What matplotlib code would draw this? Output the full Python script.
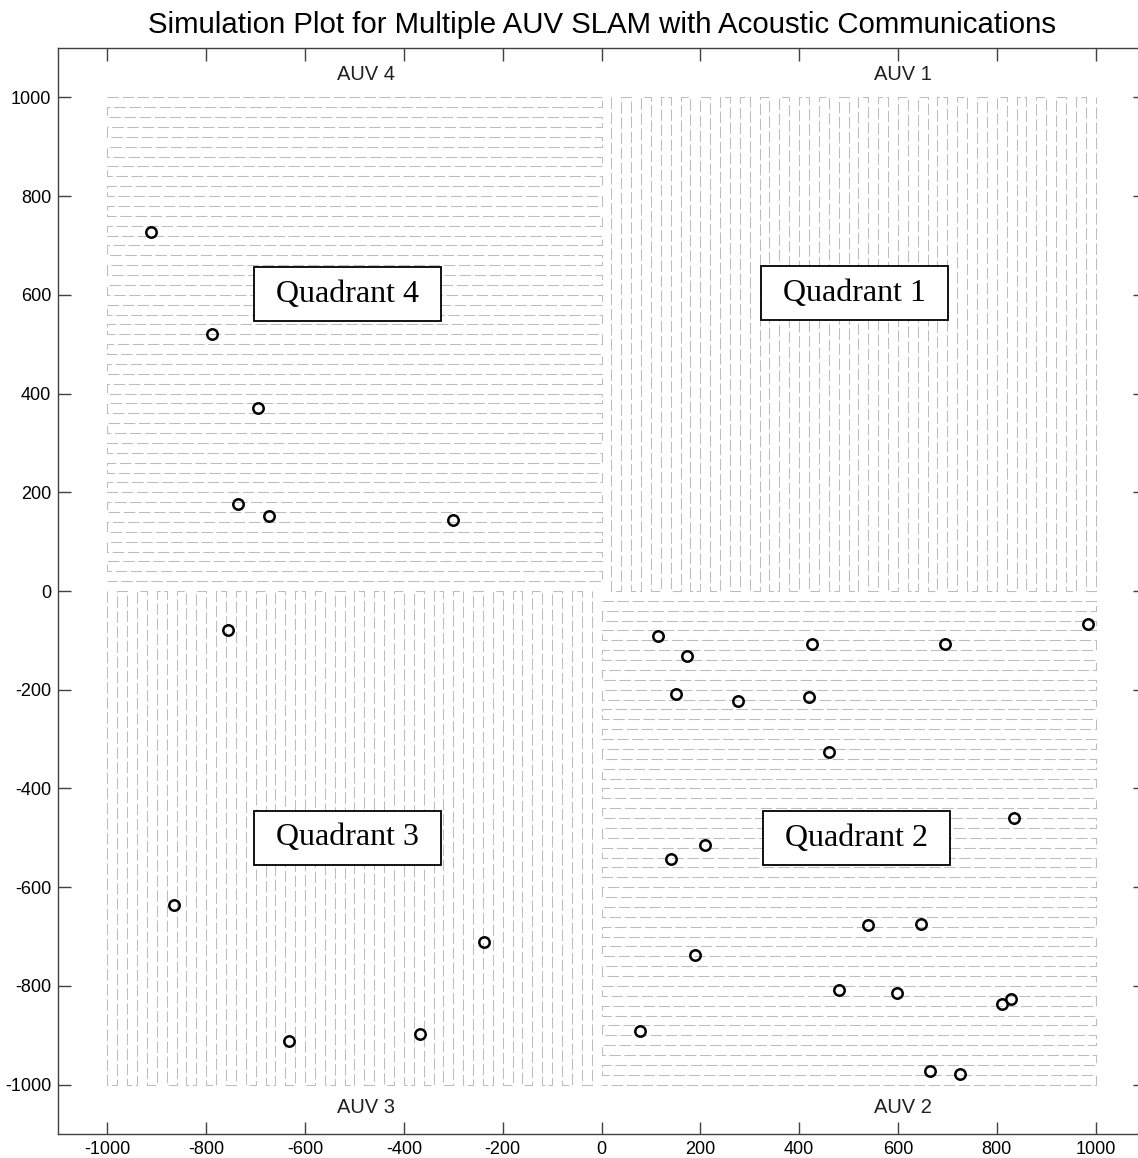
"""Multiple AUV SLAM simulation plot: lawnmower survey tracks plus landmarks"""
import numpy as np
import matplotlib
matplotlib.use("Agg")
import matplotlib.pyplot as plt
from matplotlib.patches import Rectangle

plt.rcParams['font.family'] = ['Liberation Sans', 'DejaVu Sans']
plt.rcParams['axes.unicode_minus'] = False

# landmark positions (x, y)
LANDMARK_X = [-911, -789, -696, -735, -672, -300, -755, -866, -632, -368, -237,
              115, 174, 150, 277, 427, 419, 460, 696, 984, 140, 209, 834,
              190, 540, 646, 480, 599, 810, 828, 77, 664, 725]
LANDMARK_Y = [728, 520, 370, 177, 151, 143, -78, -637, -911, -897, -712,
              -92, -131, -208, -222, -108, -214, -327, -108, -66, -542, -514, -459,
              -737, -676, -674, -808, -814, -836, -826, -891, -972, -978]

# survey areas: name, x range, y range, track direction
AREAS = [
    ("Quadrant 1", (20, 1000), (0, 1000), "v"),
    ("Quadrant 2", (0, 1000), (-1000, -20), "h"),
    ("Quadrant 3", (-1000, -20), (-1000, 0), "v"),
    ("Quadrant 4", (-1000, 0), (20, 1000), "h"),
]
TRACK_SPACING = 20

QUAD_LABEL_POS = {"Quadrant 1": (512, 603), "Quadrant 2": (516, -501),
                  "Quadrant 3": (-514, -500), "Quadrant 4": (-514, 601)}
AUV_LABELS = [("AUV 1", 610, 1047), ("AUV 2", 610, -1047),
              ("AUV 3", -476, -1047), ("AUV 4", -476, 1047)]


def lawnmower(xr, yr, step, direction):
    """Back-and-forth survey path over a rectangle"""
    xs, ys = [], []
    if direction == "h":
        tracks = np.arange(yr[1], yr[0] - 1e-9, -step)
        for i, t in enumerate(tracks):
            a, b = (xr[0], xr[1]) if i % 2 == 0 else (xr[1], xr[0])
            xs += [a, b]
            ys += [t, t]
    else:
        tracks = np.arange(xr[0], xr[1] + 1e-9, step)
        for i, t in enumerate(tracks):
            a, b = (yr[1], yr[0]) if i % 2 == 0 else (yr[0], yr[1])
            xs += [t, t]
            ys += [a, b]
    return xs, ys


fig = plt.figure(figsize=(11.38, 11.58), dpi=100)
ax = fig.add_axes([58 / 1138, 24 / 1158, 1087 / 1138, 1086 / 1158])

for name, xr, yr, d in AREAS:
    px, py = lawnmower(xr, yr, TRACK_SPACING, d)
    ax.plot(px, py, color='#bdbdbd', lw=0.75, dashes=(11, 3.5), zorder=1)

ax.plot(LANDMARK_X, LANDMARK_Y, 'o', mfc='none', mec='black', ms=7.5, mew=1.8, zorder=3)

box_w, box_h = 380, 109
for name, (cx, cy) in QUAD_LABEL_POS.items():
    ax.add_patch(Rectangle((cx - box_w / 2, cy - box_h / 2), box_w, box_h,
                           facecolor='white', edgecolor='black', lw=1.3, zorder=4))
    ax.text(cx, cy, name, ha='center', va='center', fontsize=23,
            family='Liberation Serif', zorder=5)

for label, x, y in AUV_LABELS:
    ax.text(x, y, label, ha='center', va='center', fontsize=14.5, color='#202020')

ax.set_xlim(-1100, 1100)
ax.set_ylim(-1100, 1100)
ax.set_xticks(np.arange(-1000, 1001, 200))
ax.set_yticks(np.arange(-1000, 1001, 200))
ax.tick_params(direction='in', length=9, width=1, top=True, right=True,
               labelsize=13, pad=5, color='#404040')
for s in ax.spines.values():
    s.set_color('#404040')
    s.set_linewidth(1.0)

ax.set_title("Simulation Plot for Multiple AUV SLAM with Acoustic Communications",
             fontsize=21.2, pad=11)

fig.savefig("out.png", dpi=100)
